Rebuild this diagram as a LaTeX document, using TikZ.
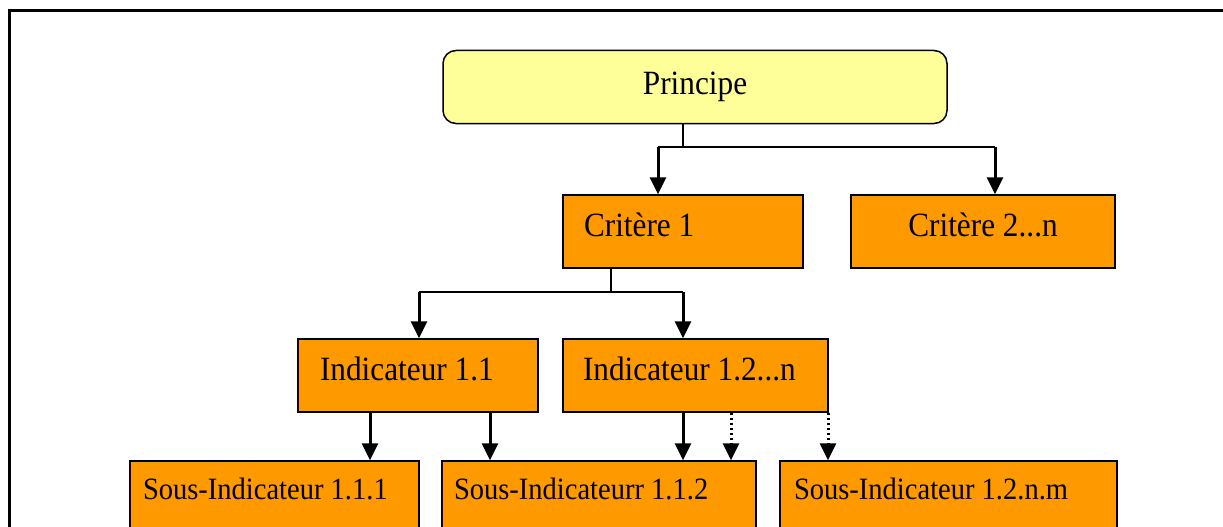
\documentclass[tikz,border=0pt]{standalone}
\usepackage{fontspec}
\setmainfont{Liberation Serif}[FakeStretch=0.92]
\usetikzlibrary{arrows.meta}
\definecolor{critorange}{HTML}{FF9900}
\definecolor{princyellow}{HTML}{FFFF99}

\begin{document}
\begin{tikzpicture}[x=1pt,y=-1pt,
	box/.style={draw, line width=1.5pt, fill=critorange, minimum height=73pt, text height=23pt, text depth=14pt, font=\fontsize{34}{40}\selectfont},
	subbox/.style={box, text height=20pt, text depth=17pt, font=\fontsize{31}{36}\selectfont},
	link/.style={line width=1.5pt},
	arr/.style={line width=3pt, -{Triangle[length=17pt,width=16pt]}},
	dotarr/.style={arr, dash pattern=on 2.5pt off 2.5pt}]
	
	% white page, picture cut off at right and bottom
	\fill[white] (0,0) rectangle (1223,527);
	\useasboundingbox (0,0) rectangle (1223,527);
	\clip (0,0) rectangle (1223,527);
	
	% outer frame (only top and left edges show)
	\draw[line width=3pt] (1223,11) -- (9,11) -- (9,527);
	
	% Principe and criteres
	\node[box, fill=princyellow, rounded corners=13pt, minimum width=504pt, text depth=8pt] (principe) at (695,87) {Principe};
	\node[box, minimum width=240pt, text width=198pt, inner xsep=21pt, align=flush left] (crit1) at (683,231.5) {Critère 1};
	\node[box, minimum width=264pt] (crit2) at (983,231.5) {Critère 2...n};
	
	% Indicateurs
	\node[box, minimum width=240pt, text width=196pt, inner xsep=22pt, align=flush left] (ind11) at (418,375.5) {Indicateur 1.1};
	\node[box, minimum width=265pt, text width=225pt, inner xsep=20pt, align=flush left] (ind12) at (695.5,375.5) {Indicateur 1.2...n};
	
	% Sous-indicateurs
	\node[subbox, minimum width=289pt, text width=263pt, inner xsep=13pt, align=flush left] (si111) at (274.5,497.5) {Sous-Indicateur 1.1.1};
	\node[subbox, minimum width=314pt, text width=290pt, inner xsep=12pt, align=flush left] (si112) at (599,497.5) {Sous-Indicateurr 1.1.2};
	\node[subbox, minimum width=337pt, text width=309pt, inner xsep=14pt, align=flush left] (si12nm) at (948.5,497.5) {Sous-Indicateur 1.2.n.m};
	
	% junctions
	\coordinate (pjoin) at (683,147);
	\coordinate (pl) at (658,147);
	\coordinate (pr) at (995,147);
	\coordinate (cjoin) at (611,292);
	\coordinate (cl) at (419,292);
	\coordinate (cr) at (683,292);
	
	\draw[link] (principe.south -| pjoin) -- (pjoin);
	\draw[link] (pl) -- (pr);
	\draw[arr] (pl) -- (crit1.north -| pl);
	\draw[arr] (pr) -- (crit2.north -| pr);
	
	\draw[link] (crit1.south -| cjoin) -- (cjoin);
	\draw[link] (cl) -- (cr);
	\draw[arr] (cl) -- (ind11.north -| cl);
	\draw[arr] (cr) -- (ind12.north -| cr);
	
	\foreach \x/\from/\to in {370/ind11/si111, 490/ind11/si112, 683/ind12/si112} {
		\draw[arr] (\from.south -| \x,0) -- (\to.north -| \x,0);
	}
	\foreach \x/\from/\to in {731/ind12/si112, 828/ind12/si12nm} {
		\draw[dotarr] (\from.south -| \x,0) -- (\to.north -| \x,0);
	}
	
	% keep the right edge open
	\fill[white] (1216,14) rectangle (1224,528);
	
\end{tikzpicture}
\end{document}
